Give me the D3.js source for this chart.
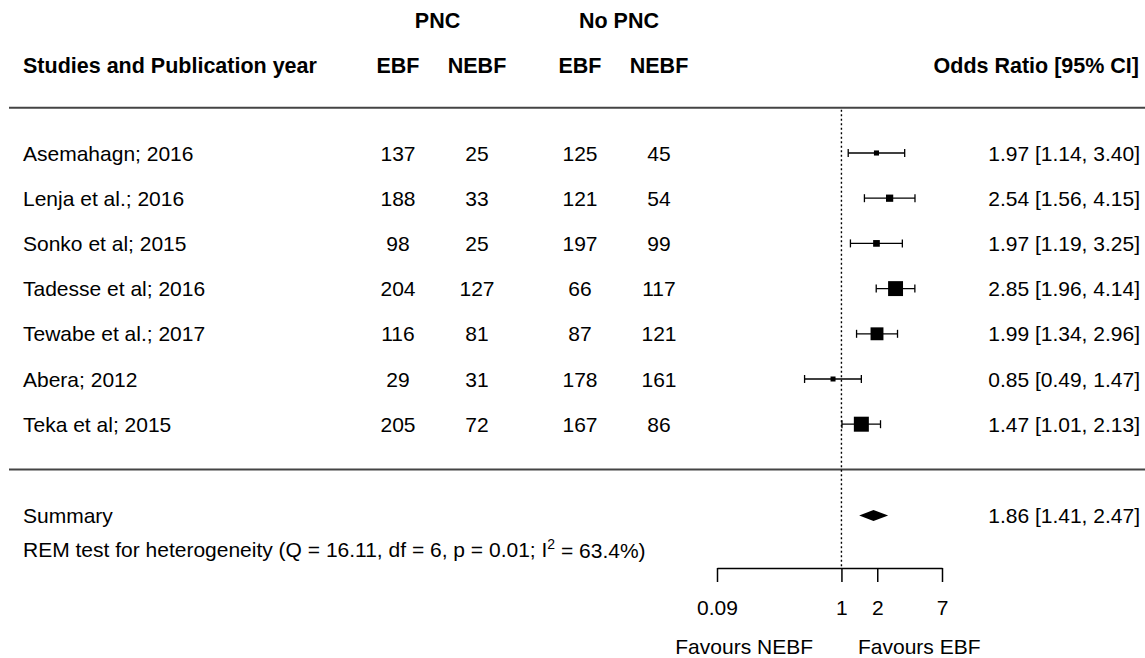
<!DOCTYPE html>
<html>
<head>
<meta charset="utf-8">
<script src="https://cdn.jsdelivr.net/npm/d3@7"></script>
<style>
  html, body { margin: 0; padding: 0; background: #fff; }
  svg text { font-family: "Liberation Sans", Arial, sans-serif; fill: #000; }
</style>
</head>
<body>
<svg id="chart" width="1145" height="658"></svg>
<script>
// Study data: labels, 2x2 counts and odds ratios with 95% CI
const studies = [
  "Asemahagn; 2016",
  "Lenja et al.; 2016",
  "Sonko et al; 2015",
  "Tadesse et al; 2016",
  "Tewabe et al.; 2017",
  "Abera; 2012",
  "Teka et al; 2015"
];
const pncEBF   = [137, 188, 98, 204, 116, 29, 205];
const pncNEBF  = [25, 33, 25, 127, 81, 31, 72];
const noPncEBF = [125, 121, 197, 66, 87, 178, 167];
const noPncNEBF = [45, 54, 99, 117, 121, 161, 86];
const orEst = [1.97, 2.54, 1.97, 2.85, 1.99, 0.85, 1.47];
const orLow = [1.14, 1.56, 1.19, 1.96, 1.34, 0.49, 1.01];
const orHigh = [3.40, 4.15, 3.25, 4.14, 2.96, 1.47, 2.13];

const summaryEst = 1.86, summaryLow = 1.41, summaryHigh = 2.47;
const hetQ = "16.11", hetDf = "6", hetP = "0.01", hetI2 = "63.4%";

const axisTicks = [0.09, 1, 2, 7];
const colHeaders = ["EBF", "NEBF", "EBF", "NEBF"];
const groupHeaders = ["PNC", "No PNC"];

const fmt = d3.format(".2f");

const svg = d3.select("#chart");
const W = 1145;

// Horizontal: log odds-ratio scale
const x = d3.scaleLog().domain([0.09, 7]).range([717, 942]);

// Vertical: row units
const row = d3.scaleLinear().domain([0, 1]).range([153, 198.2]);

// Column centres for the count table
const colCenters = [398, 477, 580, 659];

const FS = 21;
const HFS = 21.5;

// Header
const groupX = [437.5, 619];
svg.selectAll("text.group").data(groupHeaders).join("text")
  .attr("class", "group")
  .attr("x", (d, i) => groupX[i]).attr("y", row(-2.93))
  .attr("dy", "0.36em").attr("text-anchor", "middle")
  .attr("font-size", HFS).attr("font-weight", "bold").text(d => d);

svg.append("text").attr("x", 23).attr("y", row(-1.95)).attr("dy", "0.36em")
  .attr("font-size", HFS).attr("font-weight", "bold").text("Studies and Publication year");

svg.selectAll("text.colh").data(colHeaders).join("text")
  .attr("class", "colh")
  .attr("x", (d, i) => colCenters[i]).attr("y", row(-1.95))
  .attr("dy", "0.36em").attr("text-anchor", "middle")
  .attr("font-size", HFS).attr("font-weight", "bold").text(d => d);

svg.append("text").attr("x", 1139).attr("y", row(-1.95)).attr("dy", "0.36em")
  .attr("text-anchor", "end")
  .attr("font-size", HFS).attr("font-weight", "bold").text("Odds Ratio [95% CI]");

// Rules
[-1, 7].forEach(r => {
  svg.append("line").attr("x1", 9).attr("x2", W)
    .attr("y1", row(r)).attr("y2", row(r))
    .attr("stroke", "#444").attr("stroke-width", 2);
});

// Reference line at OR = 1
const axisY = 568;
svg.append("line")
  .attr("x1", x(1)).attr("x2", x(1))
  .attr("y1", row(-1) + 2).attr("y2", axisY)
  .attr("stroke", "#000").attr("stroke-width", 1.4)
  .attr("stroke-dasharray", "2,2.5");

// Study rows
const data = studies.map((s, i) => ({
  label: s,
  counts: [pncEBF[i], pncNEBF[i], noPncEBF[i], noPncNEBF[i]],
  est: orEst[i], lo: orLow[i], hi: orHigh[i],
  // inverse-variance weight from CI width on the log scale
  w: 1 / Math.pow((Math.log(orHigh[i]) - Math.log(orLow[i])) / (2 * 1.96), 2),
  y: row(i)
}));

const size = d3.scaleLinear()
  .domain(d3.extent(data, d => d.w)).range([5, 15]);

const g = svg.selectAll("g.study").data(data).join("g").attr("class", "study");

g.append("text").attr("x", 23).attr("y", d => d.y).attr("dy", "0.36em")
  .attr("font-size", FS).text(d => d.label);

g.selectAll("text.cnt").data(d => d.counts.map(c => ({ c, y: d.y }))).join("text")
  .attr("class", "cnt")
  .attr("x", (d, i) => colCenters[i]).attr("y", d => d.y).attr("dy", "0.36em")
  .attr("text-anchor", "middle").attr("font-size", FS).text(d => d.c);

g.append("line")
  .attr("x1", d => x(d.lo)).attr("x2", d => x(d.hi))
  .attr("y1", d => d.y).attr("y2", d => d.y)
  .attr("stroke", "#000").attr("stroke-width", 1.3);
["lo", "hi"].forEach(k => {
  g.append("line")
    .attr("x1", d => x(d[k])).attr("x2", d => x(d[k]))
    .attr("y1", d => d.y - 4).attr("y2", d => d.y + 4)
    .attr("stroke", "#000").attr("stroke-width", 1.3);
});
g.append("rect")
  .attr("x", d => x(d.est) - size(d.w) / 2)
  .attr("y", d => d.y - size(d.w) / 2)
  .attr("width", d => size(d.w)).attr("height", d => size(d.w))
  .attr("fill", "#000");

g.append("text").attr("x", 1140).attr("y", d => d.y).attr("dy", "0.36em")
  .attr("text-anchor", "end").attr("font-size", FS)
  .text(d => `${fmt(d.est)} [${fmt(d.lo)}, ${fmt(d.hi)}]`);

// Summary
const sy = row(8.02);
svg.append("text").attr("x", 23).attr("y", sy).attr("dy", "0.36em")
  .attr("font-size", FS).text("Summary");
svg.append("path")
  .attr("d", `M${x(summaryLow)},${sy} L${x(summaryEst)},${sy - 5.5} L${x(summaryHigh)},${sy} L${x(summaryEst)},${sy + 5.5} Z`)
  .attr("fill", "#000");
svg.append("text").attr("x", 1140).attr("y", sy).attr("dy", "0.36em")
  .attr("text-anchor", "end").attr("font-size", FS)
  .text(`${fmt(summaryEst)} [${fmt(summaryLow)}, ${fmt(summaryHigh)}]`);

const het = svg.append("text").attr("x", 23).attr("y", row(8.78)).attr("dy", "0.36em")
  .attr("font-size", FS);
het.append("tspan").text(`REM test for heterogeneity (Q = ${hetQ}, df = ${hetDf}, p = ${hetP}; I`);
het.append("tspan").attr("font-size", 14).attr("dy", "-0.6em").text("2");
het.append("tspan").attr("dy", "0.42em").text(` = ${hetI2})`);

// Axis
const axis = d3.axisBottom(x).tickValues(axisTicks)
  .tickFormat(d => String(d)).tickSize(14).tickPadding(18).tickSizeOuter(0);
const ax = svg.append("g").attr("transform", `translate(0,${axisY})`).call(axis);
ax.select(".domain").attr("stroke", "#000").attr("stroke-width", 1.5);
ax.selectAll(".tick line").attr("stroke", "#000").attr("stroke-width", 1.5);
ax.selectAll(".tick text").attr("font-size", FS).attr("fill", "#000")
  .attr("font-family", "Liberation Sans, Arial, sans-serif");

// Direction labels
svg.append("text").attr("x", 813).attr("y", 646).attr("dy", "0.36em")
  .attr("text-anchor", "end").attr("font-size", FS).text("Favours NEBF");
svg.append("text").attr("x", 858).attr("y", 646).attr("dy", "0.36em")
  .attr("text-anchor", "start").attr("font-size", FS).text("Favours EBF");
</script>
</body>
</html>
